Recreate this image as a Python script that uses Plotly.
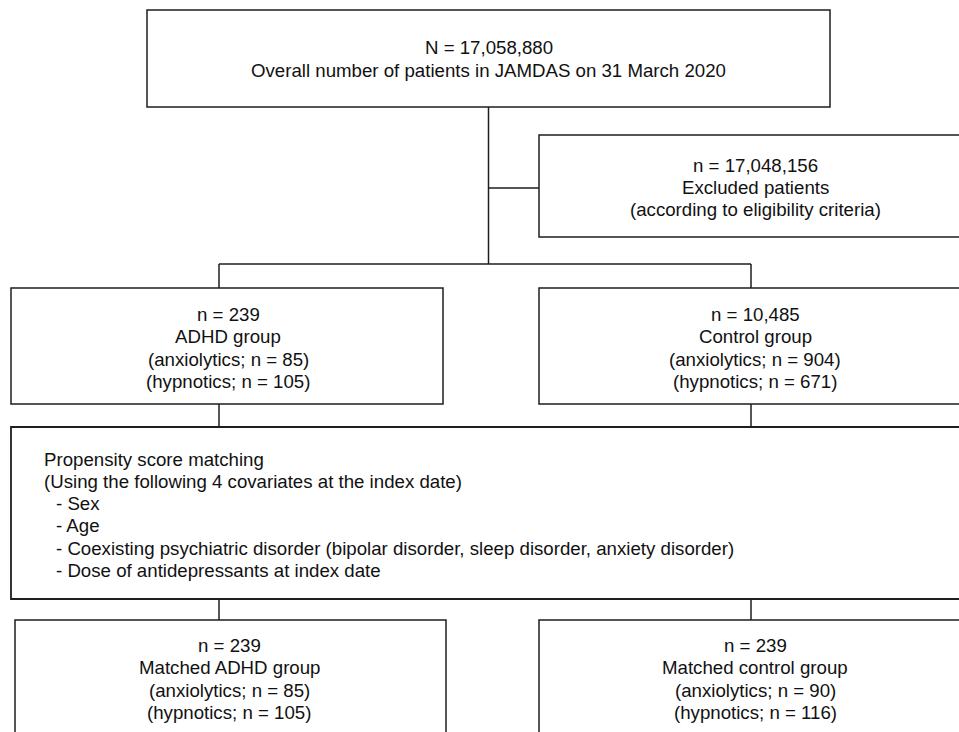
import plotly.graph_objects as go

# ---- data (text content of the flow chart) ----
top_lines = ["N = 17,058,880", "Overall number of patients in JAMDAS on 31 March 2020"]
excluded_lines = ["n = 17,048,156", "Excluded patients", "(according to eligibility criteria)"]
adhd_lines = ["n = 239", "ADHD group", "(anxiolytics; n = 85)", "(hypnotics; n = 105)"]
control_lines = ["n = 10,485", "Control group", "(anxiolytics; n = 904)", "(hypnotics; n = 671)"]
psm_lines = ["Propensity score matching", "(Using the following 4 covariates at the index date)"]
psm_items = ["- Sex", "- Age",
             "- Coexisting psychiatric disorder (bipolar disorder, sleep disorder, anxiety disorder)",
             "- Dose of antidepressants at index date"]
matched_adhd_lines = ["n = 239", "Matched ADHD group", "(anxiolytics; n = 85)", "(hypnotics; n = 105)"]
matched_control_lines = ["n = 239", "Matched control group", "(anxiolytics; n = 90)", "(hypnotics; n = 116)"]

W, H = 959, 732
LC = "#1e1e1e"
LW = 1.5
FONT = dict(family="Liberation Sans, Arial, sans-serif", size=18.67, color="#111111")
LS = 22.3  # line spacing (px)

fig = go.Figure()
shapes = []
annotations = []


def rect(x0, y0, x1, y1, width=LW):
    shapes.append(dict(type="rect", x0=x0, y0=y0, x1=x1, y1=y1, xref="x", yref="y",
                       line=dict(color=LC, width=width), fillcolor="rgba(0,0,0,0)"))


def path(d, width=LW):
    shapes.append(dict(type="path", path=d, xref="x", yref="y",
                       line=dict(color=LC, width=width)))


def line(x0, y0, x1, y1):
    shapes.append(dict(type="line", x0=x0, y0=y0, x1=x1, y1=y1, xref="x", yref="y",
                       line=dict(color=LC, width=LW)))


def centered_text(lines, cx, cy):
    n = len(lines)
    for i, t in enumerate(lines):
        y = cy + (i - (n - 1) / 2) * LS
        annotations.append(dict(x=cx, y=y, xref="x", yref="y", text=t, showarrow=False,
                                xanchor="center", yanchor="middle", font=FONT))


# boxes
rect(147, 10, 830, 107)                          # top
path("M 975,135 L 539,135 L 539,237 L 975,237")  # excluded (open right)
rect(11, 288, 443, 404)                          # ADHD
path("M 975,288 L 539,288 L 539,404 L 975,404")  # control
path("M 975,427 L 11,427 L 11,599 L 975,599", width=1.8)  # PSM
path("M 15,745 L 15,620 L 446,620 L 446,745")    # matched ADHD
path("M 975,620 L 539,620 L 539,745")            # matched control

# connectors
line(488.5, 107, 488.5, 264)
line(488.5, 188, 539, 188)
line(219, 264, 751, 264)
line(219, 264, 219, 288)
line(751, 264, 751, 288)
line(219, 404, 219, 427)
line(751, 404, 751, 427)
line(219, 599, 219, 620)
line(751, 599, 751, 620)

# texts
centered_text(top_lines, 488.5, 59)
centered_text(excluded_lines, 755, 187.5)
centered_text(adhd_lines, 228, 348)
centered_text(control_lines, 755, 348)
centered_text(matched_adhd_lines, 229, 679)
centered_text(matched_control_lines, 755, 679)

psm_y0 = 459
for i, t in enumerate(psm_lines):
    annotations.append(dict(x=42, y=psm_y0 + i * LS, xref="x", yref="y", text=t, showarrow=False,
                            xanchor="left", yanchor="middle", font=FONT))
for i, t in enumerate(psm_items):
    annotations.append(dict(x=54, y=psm_y0 + (i + 2) * LS, xref="x", yref="y", text=t, showarrow=False,
                            xanchor="left", yanchor="middle", font=FONT))

fig.update_layout(
    width=W, height=H,
    margin=dict(l=0, r=0, t=0, b=0),
    paper_bgcolor="white", plot_bgcolor="white",
    xaxis=dict(range=[0, W], visible=False, fixedrange=True),
    yaxis=dict(range=[H, 0], visible=False, fixedrange=True),
    shapes=shapes, annotations=annotations,
    showlegend=False,
    hovermode=False,
)

fig.write_html("out.html",
               config={"displayModeBar": False, "staticPlot": True},
               post_script="document.body.style.margin='0';document.body.style.overflow='hidden';")
